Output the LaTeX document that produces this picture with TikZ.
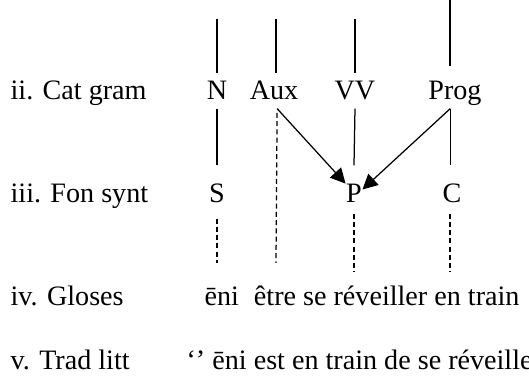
\documentclass[tikz,border=0pt]{standalone}
\usepackage{fontspec}
\setmainfont{Liberation Serif}
\usetikzlibrary{arrows.meta}

\tikzset{
  catnode/.style={inner sep=0pt, text height=10.4pt, text depth=3.2pt},
  fonnode/.style={inner sep=0pt, text height=14.8pt, text depth=4pt},
  rowlabel/.style={inner sep=0pt, anchor=base west},
  tiearrow/.style={-{Triangle[length=6pt,width=6pt]}},
  glossline/.style={dash pattern=on 2pt off 1.3pt}
}

\begin{document}
\begin{tikzpicture}[x=0.4pt,y=-0.4pt,line width=0.5pt,
    every node/.append style={font=\fontsize{11.25}{13.5}\selectfont}]
  \useasboundingbox (0,0) rectangle (529,392);
  %%%%% rows %%%%%
  \node[rowlabel] (lcat) at (10,100) {ii. Cat gram};
  \node[rowlabel] (lfon) at (10,203) {iii. Fon synt};
  \node[rowlabel] (lglo) at (10,306) {iv. Gloses};
  \node[rowlabel] (ltra) at (10,370) {v. Trad litt};

  % categories
  \node[catnode] (N) at (217,91) {N};
  \node[catnode] (Aux) at (274,91) {Aux};
  \node[catnode] (VV) at (355,91) {VV};
  \node[catnode] (Prog) at (455,91) {Prog};

  % functions
  \node[fonnode] (S) at (217,189.5) {S};
  \node[fonnode] (P) at (354,189.5) {P};
  \node[fonnode] (C) at (452,189.5) {C};

  % glosses and translation
  \node[rowlabel] (glo) at (204,306) {ēni\hspace{6pt}être se réveiller en train};
  \node[rowlabel] (tra) at (186,370) {‘’ ēni est en train de se réveiller};

  %%%%% connectors %%%%%
  \coordinate (Ntop) at (217,19);
  \coordinate (Auxtop) at (276,19);
  \coordinate (VVtop) at (355,19);
  \coordinate (Progtop) at (450,0);
  \draw (Ntop) -- (N.north);
  \draw (Auxtop) -- (Auxtop |- Aux.north);
  \draw (VVtop) -- (VV.north);
  \draw (Progtop) -- (Progtop |- 0,66);

  \draw (N.south) -- (S.north);
  \draw (VV.south) -- (P.north);
  \draw (Prog.-105) -- (Prog.-105 |- C.north);
  \draw[tiearrow] (Aux.-80) -- (P.145);
  \draw[tiearrow] (Prog.-105) -- (P.east);

  \coordinate (Sbot) at (217,263);
  \coordinate (Auxbot) at (276,263);
  \coordinate (Pbot) at (354,272);
  \coordinate (Cbot) at (450,272);
  \draw[glossline] ([yshift=-5*0.4pt]S.south) -- (Sbot);
  \draw[glossline] (Aux.-80 |- 0,113) -- (Auxbot);
  \draw[glossline] (P.south) -- (Pbot);
  \draw[glossline] (Cbot |- C.south) -- (Cbot);
\end{tikzpicture}
\end{document}
